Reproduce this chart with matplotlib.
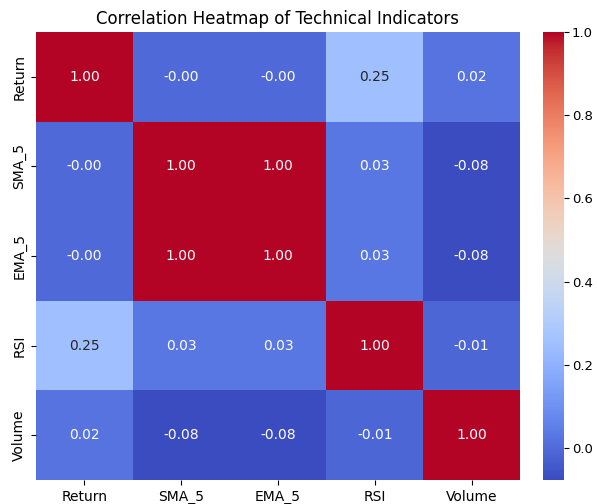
import numpy as np
import pandas as pd
import matplotlib
matplotlib.use("Agg")
import matplotlib.pyplot as plt
import seaborn as sns

# ===== Données =====
labels = ["Return", "SMA_5", "EMA_5", "RSI", "Volume"]
row_return = [1.00, -0.004, -0.004, 0.251, 0.021]
row_sma = [-0.004, 1.00, 0.999, 0.031, -0.077]
row_ema = [-0.004, 0.999, 1.00, 0.032, -0.077]
row_rsi = [0.251, 0.031, 0.032, 1.00, -0.012]
row_volume = [0.021, -0.077, -0.077, -0.012, 1.00]

corr = pd.DataFrame([row_return, row_sma, row_ema, row_rsi, row_volume],
                    index=labels, columns=labels)

# ===== Figure =====
W, H = 597, 504
fig = plt.figure(figsize=(W / 100, H / 100), dpi=100)
ax = fig.add_axes([36 / W, (H - 480) / H, 484 / W, 448 / H])
cax = fig.add_axes([543 / W, (H - 480) / H, 21 / W, 448 / H])

sns.heatmap(corr, annot=True, fmt=".2f", cmap="coolwarm", ax=ax, cbar_ax=cax,
            annot_kws={"fontsize": 10})
ax.set_title("Correlation Heatmap of Technical Indicators", fontsize=12)
ax.tick_params(labelsize=10)
cax.tick_params(labelsize=9.5, pad=2)

fig.savefig("out.png", dpi=100)
